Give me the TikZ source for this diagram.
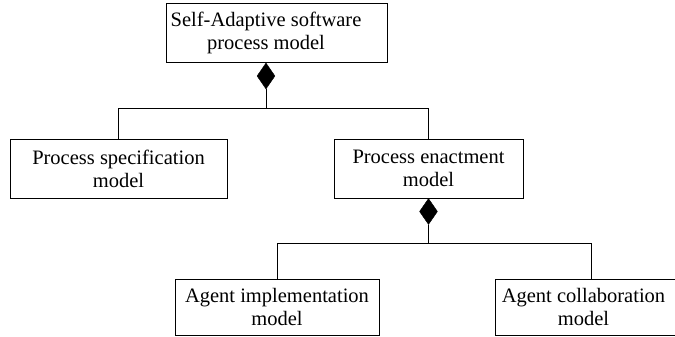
\documentclass[tikz,border=0pt]{standalone}
\usepackage{fontspec}
\setmainfont{Liberation Serif}
\usetikzlibrary{shapes.geometric}

\begin{document}
\begin{tikzpicture}[x=1pt, y=-1pt, line width=0.9pt,
    box/.style={draw, rectangle, inner sep=0pt, minimum height=59pt},
    txt/.style={align=center, inner sep=0pt, font=\fontsize{20.5}{23}\selectfont},
    dia/.style={diamond, draw, fill, line width=0.4pt, inner sep=0pt, minimum width=18pt, minimum height=26pt}]
    \useasboundingbox (0,0) rectangle (675,337);

    % 顶层: 自适应软件过程模型
    \node[box, minimum width=221pt] (top) at (276.5,33) {};
    \node[txt] (topT) at (266,33) {Self-Adaptive software\\process model};
    \node[dia] (d1) at (266,76) {};

    % 第二层: 规格说明模型与执行模型
    \node[box, txt, minimum width=217pt, minimum height=59pt] (spec) at (118.5,168.5) {Process specification\\model};
    \node[box, txt, minimum width=189pt, minimum height=59pt] (enact) at (428.5,168.5) {Process enactment\\model};
    \node[dia] (d2) at (428.5,211.5) {};

    % 第三层: 代理实现模型与代理协作模型
    \node[box, txt, minimum width=204pt, minimum height=56pt] (impl) at (277,307) {Agent implementation\\model};
    \node[box, minimum width=192pt, minimum height=56pt] (collab) at (591,307) {};
    \node[txt] (collabT) at (583.5,307) {Agent collaboration\\model};

    % 组合关系连线
    \coordinate (j1) at (266,108);
    \draw (d1.south) -- (j1);
    \draw (j1) -| (spec.north);
    \draw (j1) -| (enact.north);

    \coordinate (j2) at (428.5,243);
    \draw (d2.south) -- (j2);
    \draw (j2) -| (impl.north);
    \draw (j2) -| (collab.north);
\end{tikzpicture}
\end{document}
